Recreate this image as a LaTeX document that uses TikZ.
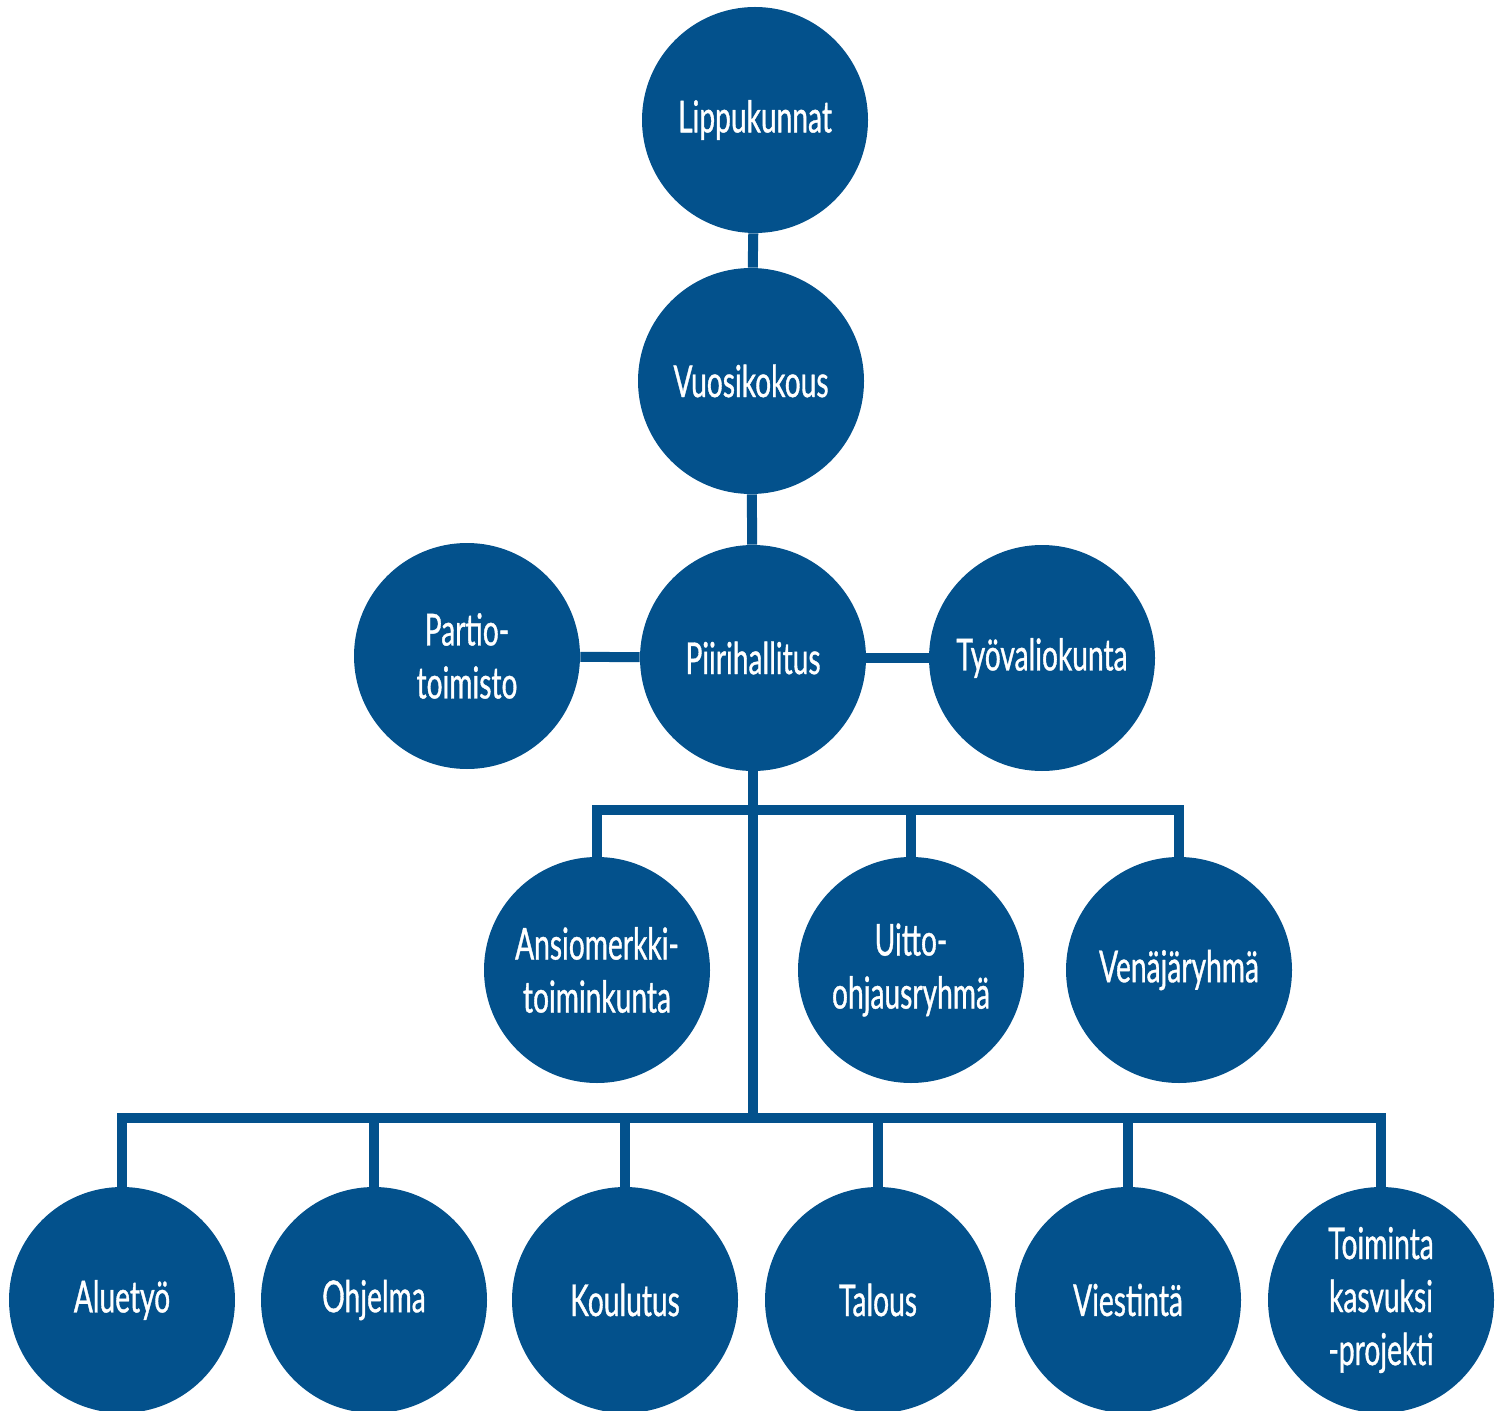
\documentclass[tikz,border=0pt]{standalone}
\usepackage{fontspec}
\setmainfont[FakeStretch=0.64,FakeBold=0.8]{Lato}
\definecolor{orgblue}{RGB}{3,81,140}
\begin{document}
\begin{tikzpicture}[x=0.5pt,y=-0.5pt,
  unit/.style={circle,fill=orgblue,draw=none,minimum size=113pt,inner sep=0pt,
    text=white,font=\fontsize{22}{26.5}\selectfont,align=center},
  conn/.style={draw=orgblue,line width=5pt,line join=miter}]
\useasboundingbox (0,0) rectangle (1497,1411);
\coordinate (bus1) at (753,810);
\coordinate (bus2) at (753,1118);
\node[unit] (L) at (755,120) {Lippukunnat};
\node[unit] (V) at (751,381) {Vuosikokous};
\node[unit] (P) at (753,658) {Piirihallitus};
\node[unit] (PT) at (467,656) {Partio-\\toimisto};
\node[unit] (T) at (1042,658) {Työvaliokunta};
\node[unit] (A) at (597,970) {Ansiomerkki-\\toiminkunta};
\node[unit] (U) at (911,970) {Uitto-\\ohjausryhmä};
\node[unit] (Ve) at (1179,970) {Venäjäryhmä};
\node[unit] (B1) at (122,1300) {Aluetyö};
\node[unit] (B2) at (374,1300) {Ohjelma};
\node[unit] (B3) at (625,1300) {Koulutus};
\node[unit] (B4) at (878,1300) {Talous};
\node[unit] (B5) at (1128,1300) {Viestintä};
\node[unit] (B6) at (1381,1300) {Toiminta\\kasvuksi\\-projekti};
\draw[conn] (L) -- (V);
\draw[conn] (V) -- (P);
\draw[conn] (P) -- (PT);
\draw[conn] (P) -- (T);
\draw[conn] (P.south) -- (bus2);
\draw[conn] (A.north) -- (A.north |- bus1) -- (Ve.north |- bus1) -- (Ve.north);
\draw[conn] (U.north) -- (U.north |- bus1);
\draw[conn] (B1.north) -- (B1.north |- bus2) -- (B6.north |- bus2) -- (B6.north);
\draw[conn] (B2.north) -- (B2.north |- bus2);
\draw[conn] (B3.north) -- (B3.north |- bus2);
\draw[conn] (B4.north) -- (B4.north |- bus2);
\draw[conn] (B5.north) -- (B5.north |- bus2);
\end{tikzpicture}
\end{document}
